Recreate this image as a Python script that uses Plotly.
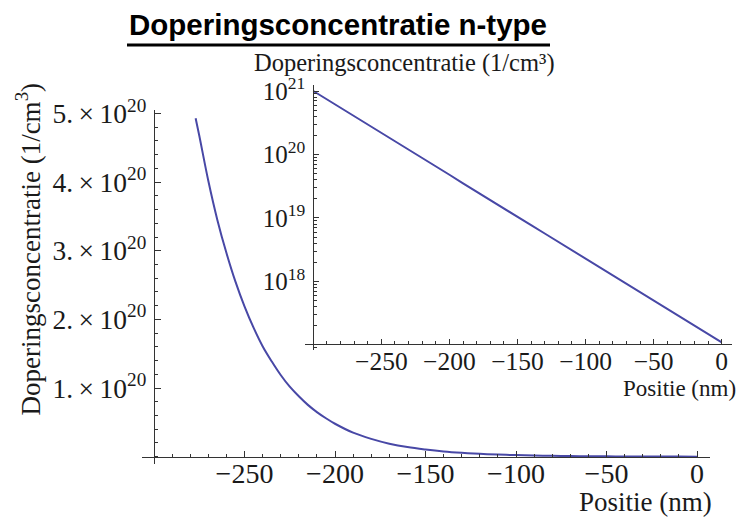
import plotly.graph_objects as go

# Data
position_nm = [-300, -290, -280, -277, -275, -270, -265, -260, -255, -250, -245, -240,
               -235, -230, -225, -220, -215, -210, -205, -200, -190, -180, -170, -160,
               -150, -140, -130, -120, -110, -100, -90, -80, -70, -60, -50, -40, -30,
               -20, -10, 0]
concentration = [1.0e21, 7.4e20, 5.4e20, 4.93e20, 4.68e20, 4.02e20, 3.45e20, 2.97e20, 2.55e20,
                 2.19e20, 1.88e20, 1.61e20, 1.39e20, 1.19e20, 1.02e20, 8.8e19, 7.55e19,
                 6.5e19, 5.6e19, 4.8e19, 3.5e19, 2.6e19, 1.9e19, 1.4e19, 1.05e19, 7.7e18,
                 5.7e18, 4.2e18, 3.1e18, 2.3e18, 1.7e18, 1.25e18, 9.2e17, 6.8e17, 5.0e17,
                 3.7e17, 2.7e17, 2.0e17, 1.5e17, 1.1e17]

x_ticks = [-250, -200, -150, -100, -50, 0]
x_ticktext = ["\u2212250", "\u2212200", "\u2212150", "\u2212100", "\u221250", "0"]
y_ticks = [1e20, 2e20, 3e20, 4e20, 5e20]
y_ticktext = [f"{k}.\u2009\u00d7\u200910<sup>20</sup>" for k in (1, 2, 3, 4, 5)]
log_ticks = [1e18, 1e19, 1e20, 1e21]
log_ticktext = ["10<sup>18</sup>", "10<sup>19</sup>", "10<sup>20</sup>", "10<sup>21</sup>"]

LINE = "#4848a6"
AX = "#333333"
SERIF = "Liberation Serif"
TXT = "#1a1a1a"

W, H = 743, 518
def px(x): return x / W
def py(y): return (H - y) / H

main_x = [x for x, c in zip(position_nm, concentration) if c <= 5e20]
main_y = [c for c in concentration if c <= 5e20]

fig = go.Figure()
fig.add_trace(go.Scatter(x=main_x, y=main_y, mode="lines", line=dict(color=LINE, width=2, shape="spline"),
                         xaxis="x", yaxis="y", showlegend=False, hoverinfo="skip"))
fig.add_trace(go.Scatter(x=position_nm, y=concentration, mode="lines", line=dict(color=LINE, width=2),
                         xaxis="x2", yaxis="y2", showlegend=False, hoverinfo="skip"))

axis_common = dict(showgrid=False, zeroline=False, showline=True, linecolor=AX, linewidth=1.3,
                   ticks="inside", tickcolor=AX, tickwidth=1.2, automargin=False)

fig.update_layout(
    xaxis=dict(axis_common, domain=[px(142), px(710)], range=[-306.63, 7.18],
               anchor="free", position=py(456.7), tickvals=x_ticks, ticktext=x_ticktext,
               ticklen=6, tickfont=dict(family=SERIF, size=28, color=TXT),
               ticklabelstandoff=-8,
               minor=dict(dtick=10, tick0=0, ticklen=3, ticks="inside", tickcolor=AX, tickwidth=1)),
    yaxis=dict(axis_common, domain=[py(463.6), py(110)], range=[-0.1005e20, 5.051e20],
               anchor="free", position=px(154), tickvals=y_ticks, ticktext=y_ticktext,
               ticklen=6, tickfont=dict(family=SERIF, size=27.5, color=TXT),
               ticklabelstandoff=2,
               minor=dict(dtick=2e19, tick0=0, ticklen=3, ticks="inside", tickcolor=AX, tickwidth=1)),
    xaxis2=dict(axis_common, domain=[px(305), px(731.7)], range=[-306.1, 7.35],
                anchor="free", position=py(344), tickvals=x_ticks, ticktext=x_ticktext,
                ticklen=5, tickfont=dict(family=SERIF, size=25.5, color=TXT),
                ticklabelstandoff=-6,
                minor=dict(dtick=10, tick0=0, ticklen=3, ticks="inside", tickcolor=AX, tickwidth=1)),
    yaxis2=dict(axis_common, type="log", domain=[py(350), py(85)], range=[16.921, 21.0945],
                anchor="free", position=px(313.3), tickvals=log_ticks, ticktext=log_ticktext,
                ticklen=5, tickfont=dict(family=SERIF, size=25, color=TXT),
                ticklabelstandoff=3,
                minor=dict(dtick="D1", ticklen=3, ticks="inside", tickcolor=AX, tickwidth=1)),
    width=W, height=H, margin=dict(l=0, r=0, t=0, b=0, autoexpand=False),
    paper_bgcolor="white", plot_bgcolor="rgba(0,0,0,0)",
    annotations=[
        dict(text="<b>Doperingsconcentratie n-type</b>", x=px(338), y=py(24), xref="paper", yref="paper",
             showarrow=False, xanchor="center", yanchor="middle",
             font=dict(family="Liberation Sans", size=29.5, color="black")),
        dict(text="Doperingsconcentratie (1/cm<sup>3</sup>)", x=px(28), y=py(249.5), xref="paper", yref="paper",
             showarrow=False, textangle=-90, xanchor="center", yanchor="middle",
             font=dict(family=SERIF, size=27, color=TXT)),
        dict(text="Positie (nm)", x=px(645), y=py(502), xref="paper", yref="paper",
             showarrow=False, xanchor="center", yanchor="middle",
             font=dict(family=SERIF, size=27, color=TXT)),
        dict(text="Doperingsconcentratie (1/cm\u00b3)", x=px(404.5), y=py(63), xref="paper", yref="paper",
             showarrow=False, xanchor="center", yanchor="middle",
             font=dict(family=SERIF, size=24.5, color=TXT)),
        dict(text="Positie (nm)", x=px(679), y=py(388), xref="paper", yref="paper",
             showarrow=False, xanchor="center", yanchor="middle",
             font=dict(family=SERIF, size=23, color=TXT)),
    ],
    shapes=[dict(type="line", xref="paper", yref="paper", x0=px(127), x1=px(550), y0=py(45), y1=py(45),
                 line=dict(color="black", width=3))],
)

fig.write_html("out.html", post_script="document.body.style.margin='0';document.body.style.overflow='hidden';")
